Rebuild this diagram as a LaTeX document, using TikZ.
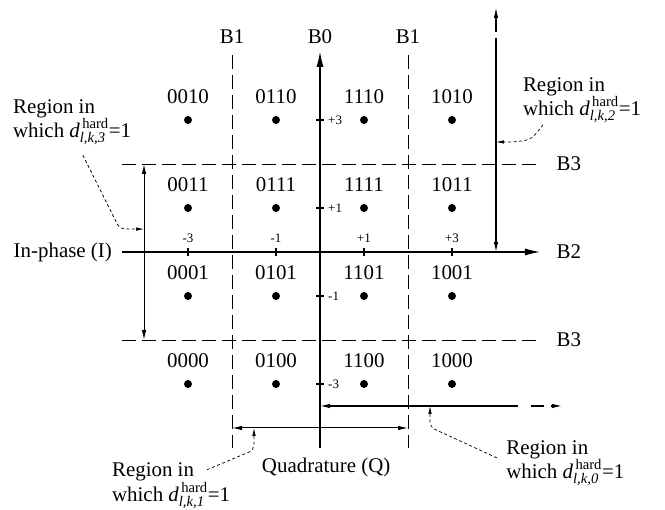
\documentclass[tikz,border=0pt]{standalone}
\usepackage{amsmath}
\usepackage{fontspec}
\setmainfont{Liberation Serif}
\usetikzlibrary{arrows.meta,positioning,calc}

\begin{document}
\begin{tikzpicture}[x=44bp, y=44bp, font=\fontsize{21}{22}\selectfont,
  frontera/.style={dash pattern=on 14bp off 6bp, line width=0.9bp},
  eje/.style={line width=1.1bp},
  punta/.style={-{Latex[length=15bp,width=7bp]}},
  region/.style={line width=1bp, {Latex[length=10bp,width=4.5bp]}-{Latex[length=10bp,width=4.5bp]}},
  guia/.style={dash pattern=on 3bp off 2.5bp, line width=0.7bp, rounded corners=5bp, -{Latex[length=8bp,width=3.5bp]}},
  marca/.style={font=\fontsize{13}{14}\selectfont, inner sep=1bp},
  punto/.style={circle, fill, inner sep=0pt, minimum size=8bp},
  rotulo/.style={align=left, inner sep=0pt}]
  \useasboundingbox (-7.273,-5.864) rectangle (7.841,5.727);

  % fronteras B1 y B3
  \coordinate (b1iT) at (-2,4.48); \coordinate (b1iB) at (-2,-4.45);
  \coordinate (b1dT) at (2,4.48);  \coordinate (b1dB) at (2,-4.45);
  \coordinate (b3sL) at (-4.5,2);  \coordinate (b3sR) at (5,2);
  \coordinate (b3iL) at (-4.5,-2); \coordinate (b3iR) at (5,-2);
  \draw[frontera] (b1iT) -- (b1iB);
  \draw[frontera] (b1dT) -- (b1dB);
  \draw[frontera] (b3sL) -- (b3sR);
  \draw[frontera] (b3iL) -- (b3iR);
  \node (B1i) at (-2,4.89) {B1};
  \node (B1d) at (2,4.89) {B1};
  \node (B0) at (0,4.89) {B0};
  \node[anchor=west] (B3s) at (5.3,2) {B3};
  \node[anchor=west] (B3i) at (5.3,-2) {B3};
  \node[anchor=west] (B2) at (5.3,0) {B2};

  % ejes
  \coordinate (iL) at (-4.5,0); \coordinate (iR) at (5,0);
  \coordinate (qB) at (0,-4.45); \coordinate (qT) at (0,4.55);
  \draw[eje, punta] (iL) -- (iR);
  \draw[eje, punta] (qB) -- (qT);
  \node[anchor=east] (inphase) at (-4.65,0) {In-phase (I)};
  \node (quad) at (0.14,-4.9) {Quadrature (Q)};
  \foreach \v in {-3,-1,1,3} {
    \draw[eje] (\v,-0.09) -- (\v,0.09);
    \draw[eje] (-0.09,\v) -- (0.09,\v);
  }
  \foreach \v/\t in {-3/-3,-1/-1,1/+1,3/+3} {
    \node[marca] (mi\v) at (\v,0.32) {\t};
    \node[marca, anchor=west] (mq\v) at (0.16,\v) {\t};
  }

  % constelacion
  \foreach \y/\a/\b/\c/\d in {3/0010/0110/1110/1010, 1/0011/0111/1111/1011,
                              -1/0001/0101/1101/1001, -3/0000/0100/1100/1000} {
    \foreach \x/\s in {-3/\a,-1/\b,1/\c,3/\d} {
      \node[punto] (p\s) at (\x,\y) {};
      \node[above=12bp of p\s, inner sep=0pt] {\s};
    }
  }

  % regiones con bit duro igual a 1
  \coordinate (r3a) at (-4,2); \coordinate (r3b) at (-4,-2);
  \draw[region] (r3a) -- (r3b);
  \coordinate (r1a) at (-2,-4); \coordinate (r1b) at (2,-4);
  \draw[region] (r1a) -- (r1b);
  \coordinate (r2a) at (4,0); \coordinate (r2b) at (4,4.86);
  \coordinate (r2c) at (4,5.0); \coordinate (r2d) at (4,5.55);
  \draw[eje, {Latex[length=10bp,width=4.5bp]}-] (r2a) -- (r2b);
  \draw[eje, -{Latex[length=10bp,width=4.5bp]}] (r2c) -- (r2d);
  \coordinate (r0a) at (0,-3.5); \coordinate (r0b) at (4.5,-3.5);
  \coordinate (r0c) at (4.8,-3.5); \coordinate (r0d) at (5.1,-3.5);
  \coordinate (r0e) at (5.25,-3.5); \coordinate (r0f) at (5.5,-3.5);
  \draw[eje, {Latex[length=10bp,width=4.5bp]}-] (r0a) -- (r0b);
  \draw[eje] (r0c) -- (r0d);
  \draw[eje, -{Latex[length=10bp,width=4.5bp]}] (r0e) -- (r0f);

  \node[rotulo, anchor=west] (lab3) at (-6.98,2.95)
    {Region in\\which $\textit{d}^{\,\text{hard}}_{\textit{l,k,3}}$=1};
  \node[rotulo, anchor=west] (lab2) at (4.61,3.45)
    {Region in\\which $\textit{d}^{\,\text{hard}}_{\textit{l,k,2}}$=1};
  \node[rotulo, anchor=west] (lab1) at (-4.73,-5.32)
    {Region in\\which $\textit{d}^{\,\text{hard}}_{\textit{l,k,1}}$=1};
  \node[rotulo, anchor=west] (lab0) at (4.23,-4.8)
    {Region in\\which $\textit{d}^{\,\text{hard}}_{\textit{l,k,0}}$=1};

  \coordinate (g3) at (-5.39,2.2);  \coordinate (t3) at (-4,0.52);
  \coordinate (g2) at (5.07,2.89);  \coordinate (t2) at (4,2.5);
  \coordinate (g1) at (-2.57,-4.95); \coordinate (t1) at (-1.5,-4);
  \coordinate (g0) at (4.02,-4.68); \coordinate (t0) at (2.5,-3.5);
  \draw[guia] (g3) -- (-4.55,0.52) -- (t3);
  \draw[guia] (g2) .. controls (4.8,2.55) .. (4.4,2.5) -- (t2);
  \draw[guia] (g1) -- (-1.5,-4.5) -- (t1);
  \draw[guia] (g0) -- (2.5,-3.98) -- (t0);
\end{tikzpicture}
\end{document}
